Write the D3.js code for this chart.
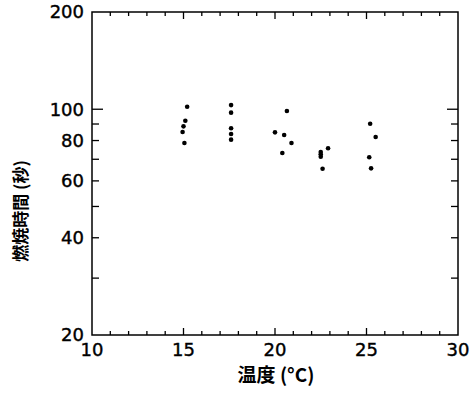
<!DOCTYPE html>
<html><head><meta charset="utf-8">
<script src="https://cdn.jsdelivr.net/npm/d3@7"></script>
<style>body{margin:0;background:#fff}svg{display:block}</style>
</head><body>
<script>
const temps = [15.2, 15.1, 15.0, 14.95, 15.05, 17.6, 17.6, 17.6, 17.6, 17.6,
  20.65, 20.0, 20.5, 20.9, 20.4, 22.5, 22.5, 22.5, 22.9, 22.6, 25.2, 25.5, 25.15, 25.25];
const times = [101.8, 92.1, 88.5, 85.0, 78.6, 103, 97.6, 87.3, 83.8, 80.5,
  98.8, 84.8, 83.2, 78.6, 73.2, 73.7, 72.5, 71.3, 75.7, 65.4, 90.2, 82.0, 71.0, 65.6];
const yTickLabels = [20, 40, 60, 80, 100, 200];
const yTickMarks = [30, 40, 50, 60, 70, 80, 90, 100];
const xTickLabels = [10, 15, 20, 25, 30];
const xTitle = "温度 (°C)";
const yTitle = "燃焼時間 (秒)";

const W = 470, H = 395;
const m = {l: 92, r: 12, t: 12, b: 60};
const svg = d3.select("body").append("svg").attr("width", W).attr("height", H);
const x = d3.scaleLinear().domain([10, 30]).range([m.l, W - m.r]);
const y = d3.scaleLog().domain([20, 200]).range([H - m.b, m.t]);
const font = "'DejaVu Sans', sans-serif";
const g = svg.append("g");

// frame
g.append("rect").attr("x", x(10)).attr("y", y(200)).attr("width", x(30) - x(10)).attr("height", y(20) - y(200))
  .attr("fill", "none").attr("stroke", "#000").attr("stroke-width", 1.5);

const xMinor = d3.range(11, 30);
xMinor.forEach(v => {
  const len = v % 5 === 0 ? 7 : 4;
  g.append("line").attr("x1", x(v)).attr("x2", x(v)).attr("y1", y(20)).attr("y2", y(20) - len).attr("stroke", "#000").attr("stroke-width", 1.3);
  g.append("line").attr("x1", x(v)).attr("x2", x(v)).attr("y1", y(200)).attr("y2", y(200) + len).attr("stroke", "#000").attr("stroke-width", 1.3);
});
yTickMarks.forEach(v => {
  const len = v === 100 ? 11 : 7;
  g.append("line").attr("x1", x(10)).attr("x2", x(10) + len).attr("y1", y(v)).attr("y2", y(v)).attr("stroke", "#000").attr("stroke-width", 1.3);
  g.append("line").attr("x1", x(30)).attr("x2", x(30) - len).attr("y1", y(v)).attr("y2", y(v)).attr("stroke", "#000").attr("stroke-width", 1.3);
});

g.selectAll(".yl").data(yTickLabels).enter().append("text")
  .attr("x", x(10) - 8).attr("y", d => y(d)).attr("dy", "0.36em")
  .attr("text-anchor", "end").attr("font-family", font).attr("font-size", 18)
  .attr("stroke", "#000").attr("stroke-width", 0.4)
  .text(d => d);
g.selectAll(".xl").data(xTickLabels).enter().append("text")
  .attr("x", d => x(d)).attr("y", y(20) + 21)
  .attr("text-anchor", "middle").attr("font-family", font).attr("font-size", 18)
  .attr("stroke", "#000").attr("stroke-width", 0.4)
  .text(d => d);

g.selectAll("circle").data(temps).enter().append("circle")
  .attr("cx", d => x(d)).attr("cy", (d, i) => y(times[i])).attr("r", 2.3).attr("fill", "#000");

svg.append("text").attr("x", 276).attr("y", 382).attr("text-anchor", "middle")
  .attr("font-family", "'Noto Sans CJK JP', sans-serif").attr("font-size", 19).attr("font-weight", "bold").text(xTitle);
svg.append("text").attr("transform", "translate(27,211) rotate(-90)").attr("text-anchor", "middle")
  .attr("font-family", "'Noto Sans CJK JP', sans-serif").attr("font-size", 17).attr("font-weight", "bold").text(yTitle);
</script>
</body></html>
